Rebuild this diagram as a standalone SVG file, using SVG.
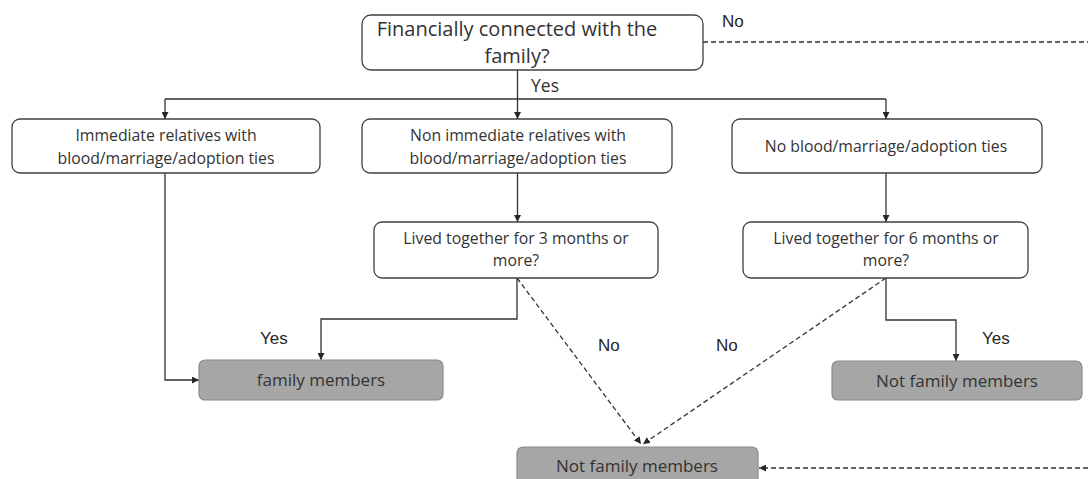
<svg xmlns="http://www.w3.org/2000/svg" width="1088" height="479" viewBox="0 0 1088 479">
  <defs>
    <marker id="arrow" viewBox="0 0 8 8" refX="8" refY="4" markerWidth="7" markerHeight="7" markerUnits="userSpaceOnUse" orient="auto">
      <path d="M0,0 L8,4 L0,8 z" fill="#262626"/>
    </marker>
    <style>
      .box { fill: #ffffff; stroke: #404040; stroke-width: 1.3; }
      .result { fill: #a6a6a6; stroke: #8a8a8a; stroke-width: 1.2; }
      .t { font-family: "Open Sans", "Liberation Sans", sans-serif; fill: #333333; text-anchor: middle; }
      .lbl { font-family: "Liberation Sans", Arial, sans-serif; fill: #262626; font-size: 17px; }
      .solid { fill: none; stroke: #333333; stroke-width: 1.3; }
      .dash { fill: none; stroke: #333333; stroke-width: 1.3; stroke-dasharray: 5 3; }
    </style>
  </defs>

  <!-- connectors -->
  <g id="connectors">
    <!-- from question 1 -->
    <path class="solid" d="M517.5,70 V99"/>
    <path class="solid" d="M165,99 H886"/>
    <path class="solid" d="M165,99 V119" marker-end="url(#arrow)"/>
    <path class="solid" d="M517.5,99 V119" marker-end="url(#arrow)"/>
    <path class="solid" d="M886,99 V119" marker-end="url(#arrow)"/>
    <path class="dash" d="M703,42 H1088"/>
    <!-- relatives branches -->
    <path class="solid" d="M165,173 V380 H199" marker-end="url(#arrow)"/>
    <path class="solid" d="M517.5,173 V222" marker-end="url(#arrow)"/>
    <path class="solid" d="M886,173 V222" marker-end="url(#arrow)"/>
    <!-- lived together 3 months -->
    <path class="solid" d="M517,278 V319 H321 V360" marker-end="url(#arrow)"/>
    <path class="dash" d="M517,278 L641,444" marker-end="url(#arrow)"/>
    <!-- lived together 6 months -->
    <path class="solid" d="M886,278 V320 H956 V361" marker-end="url(#arrow)"/>
    <path class="dash" d="M886,278 L643,444" marker-end="url(#arrow)"/>
    <!-- no financial connection -->
    <path class="dash" d="M1088,468 H759" marker-end="url(#arrow)"/>
  </g>

  <!-- labels on connectors -->
  <g id="edge-labels">
    <text class="lbl" x="722" y="27">No</text>
    <text class="t" x="545" y="92" font-size="17.5">Yes</text>
    <text class="lbl" x="260" y="344">Yes</text>
    <text class="lbl" x="598" y="351">No</text>
    <text class="lbl" x="716" y="351">No</text>
    <text class="lbl" x="982" y="344">Yes</text>
  </g>

  <g id="q-financial">
    <rect class="box" x="362" y="15" width="341" height="55" rx="9"/>
    <text class="t" x="517" y="36" font-size="20">Financially connected with the</text>
    <text class="t" x="517" y="63" font-size="20">family?</text>
  </g>

  <g id="immediate">
    <rect class="box" x="12" y="119" width="308" height="54" rx="8"/>
    <text class="t" x="166" y="141" font-size="15.8">Immediate relatives with</text>
    <text class="t" x="166" y="164" font-size="15.8">blood/marriage/adoption ties</text>
  </g>

  <g id="non-immediate">
    <rect class="box" x="362" y="119" width="310" height="54" rx="8"/>
    <text class="t" x="518" y="141" font-size="15.8">Non immediate relatives with</text>
    <text class="t" x="518" y="164" font-size="15.8">blood/marriage/adoption ties</text>
  </g>

  <g id="no-ties">
    <rect class="box" x="732" y="119" width="310" height="54" rx="8"/>
    <text class="t" x="886" y="152" font-size="15.8">No blood/marriage/adoption ties</text>
  </g>

  <g id="q-three-months">
    <rect class="box" x="374" y="222" width="284" height="56" rx="8"/>
    <text class="t" x="516" y="244" font-size="15.8">Lived together for 3 months or</text>
    <text class="t" x="516" y="266" font-size="15.8">more?</text>
  </g>

  <g id="q-six-months">
    <rect class="box" x="743" y="222" width="285" height="56" rx="8"/>
    <text class="t" x="886" y="244" font-size="15.8">Lived together for 6 months or</text>
    <text class="t" x="886" y="266" font-size="15.8">more?</text>
  </g>

  <g id="family-members">
    <rect class="result" x="199" y="360" width="244" height="40" rx="6"/>
    <text class="t" x="321" y="386" font-size="17">family members</text>
  </g>

  <g id="not-family-right">
    <rect class="result" x="832" y="361" width="250" height="39" rx="6"/>
    <text class="t" x="957" y="387" font-size="17">Not family members</text>
  </g>

  <g id="not-family-bottom">
    <rect class="result" x="517" y="447" width="241" height="40" rx="6"/>
    <text class="t" x="637" y="472" font-size="17">Not family members</text>
  </g>
</svg>
